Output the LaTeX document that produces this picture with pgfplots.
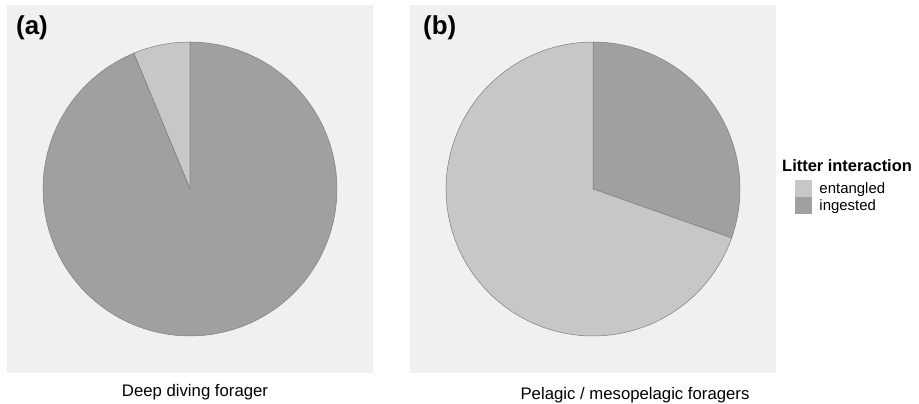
\documentclass[border=0pt]{standalone}
\usepackage{pgfplots}
\pgfplotsset{compat=1.18}
\usepackage{fontspec}
\setmainfont{Liberation Sans}
\definecolor{bg}{RGB}{240,240,240}
\definecolor{lite}{RGB}{198,199,198}
\definecolor{dark}{RGB}{160,161,159}
\definecolor{edge}{RGB}{125,125,125}

% shares of litter interaction
\def\aEnt{0.0625} % (a) deep diving forager: entangled share (rest ingested)
\def\bIng{0.304}  % (b) pelagic / mesopelagic: ingested share (rest entangled)

\pgfplotsset{
  piepanel/.style={scale only axis, width=366bp, height=368bp,
    xmin=-1.2449, xmax=1.2449, ymin=-1.2517, ymax=1.2517,
    axis line style={draw=none}, ticks=none,
    axis background/.style={fill=bg}, clip=false},
  wedge/.style={draw=edge, line width=0.5bp, samples=90, forget plot},
  legkey/.style={legend image code/.code={\fill[##1,draw=none] (0bp,-8.5bp) rectangle (17bp,8.5bp);}},
}

\begin{document}
\begin{tikzpicture}
\useasboundingbox (0bp,0bp) rectangle (919bp,404bp);
\pgfmathsetmacro\aEnd{90+360*\aEnt}
\pgfmathsetmacro\bStart{90-360*\bIng}
\pgfmathsetmacro\bEnd{450-360*\bIng}

\begin{axis}[piepanel, at={(7bp,31bp)}, anchor=south west]
\addplot[wedge, fill=lite, domain=90:\aEnd] ({cos(x)},{sin(x)}) -- (axis cs:0,0) -- cycle;
\addplot[wedge, fill=dark, domain=\aEnd:450] ({cos(x)},{sin(x)}) -- (axis cs:0,0) -- cycle;
\end{axis}

\begin{axis}[piepanel, at={(410bp,31bp)}, anchor=south west,
  legend style={at={(axis cs:1.374,0.0612)}, anchor=north west, draw=none, fill=none,
    inner sep=0pt, outer sep=0pt, row sep=0bp,
    font=\fontsize{15}{17}\selectfont, nodes={inner sep=0.5bp}},
  legend cell align=left,
  legend style={/tikz/every odd column/.append style={column sep=7bp}}]
\addplot[wedge, fill=dark, domain=\bStart:90] ({cos(x)},{sin(x)}) -- (axis cs:0,0) -- cycle;
\addplot[wedge, fill=lite, domain=90:\bEnd] ({cos(x)},{sin(x)}) -- (axis cs:0,0) -- cycle;
\addlegendimage{legkey, fill=lite}
\addlegendentry{entangled}
\addlegendimage{legkey, fill=dark}
\addlegendentry{ingested}
\end{axis}

\node[anchor=base west, inner sep=0pt, font=\fontsize{26}{30}\selectfont\bfseries] at (16bp,369bp) {(a)};
\node[anchor=base west, inner sep=0pt, font=\fontsize{26}{30}\selectfont\bfseries] at (423bp,369bp) {(b)};
\node[anchor=base, inner sep=0pt, font=\fontsize{16.8}{19}\selectfont] at (195bp,7.3bp) {Deep diving forager};
\node[anchor=base, inner sep=0pt, font=\fontsize{16.8}{19}\selectfont] at (635bp,5bp) {Pelagic / mesopelagic foragers};
\node[anchor=base west, inner sep=0pt, font=\fontsize{16.5}{19}\selectfont\bfseries] at (782bp,232.3bp) {Litter interaction};
\end{tikzpicture}
\end{document}
